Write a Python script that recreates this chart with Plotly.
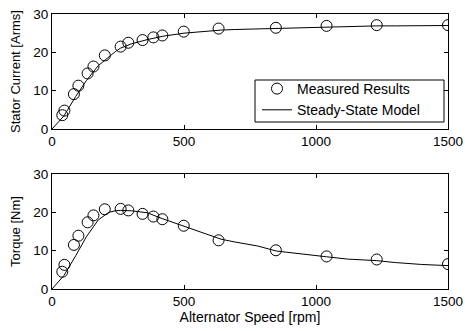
import plotly.graph_objects as go
from plotly.subplots import make_subplots

# Measured data
meas_speed = [39, 47, 83, 100, 135, 157, 200, 260, 289, 343, 384, 418, 499, 631, 848, 1040, 1230, 1500]
meas_current = [3.6, 4.8, 9.1, 11.3, 14.5, 16.3, 19.2, 21.5, 22.5, 23.2, 23.9, 24.4, 25.4, 26.2, 26.4, 26.9, 27.1, 27.1]
meas_torque = [4.5, 6.3, 11.5, 13.9, 17.4, 19.2, 20.8, 20.9, 20.5, 19.6, 18.9, 18.2, 16.5, 12.7, 10.1, 8.5, 7.7, 6.5]

# Steady-state model
model_speed = [0, 45, 90, 130, 175, 215, 240, 260, 300, 360, 420, 500, 560, 640, 690, 780, 850, 940, 1040, 1120, 1230, 1300, 1400, 1500]
model_current = [0, 3.4, 8.5, 12.6, 16.5, 18.9, 20.2, 21.1, 22.2, 23.3, 24.2, 25.0, 25.4, 25.8, 25.95, 26.1, 26.3, 26.5, 26.6, 26.8, 26.9, 26.9, 27.0, 27.0]
model_torque = [0, 3.5, 8.7, 13.6, 18.0, 20.0, 20.4, 20.5, 20.4, 19.9, 18.3, 16.4, 15.1, 13.0, 12.3, 11.2, 9.9, 9.1, 8.4, 7.8, 7.4, 6.9, 6.4, 6.1]

x_ticks = [0, 500, 1000, 1500]
y_ticks = [0, 10, 20, 30]

fig = make_subplots(rows=2, cols=1, vertical_spacing=0.1636)

marker = dict(symbol="circle-open", size=11, color="black", line=dict(width=1, color="black"))
line = dict(color="black", width=1)

fig.add_trace(go.Scatter(x=meas_speed, y=meas_current, mode="markers", marker=marker,
                         name="Measured Results", showlegend=True), row=1, col=1)
fig.add_trace(go.Scatter(x=model_speed, y=model_current, mode="lines", line=line,
                         name="Steady-State Model", showlegend=True), row=1, col=1)
fig.add_trace(go.Scatter(x=meas_speed, y=meas_torque, mode="markers", marker=marker,
                         showlegend=False), row=2, col=1)
fig.add_trace(go.Scatter(x=model_speed, y=model_torque, mode="lines", line=line,
                         showlegend=False), row=2, col=1)

axis_common = dict(showline=True, linecolor="black", linewidth=1, mirror="ticks",
                   ticks="inside", ticklen=4, tickcolor="black", showgrid=False,
                   zeroline=False, automargin=False, tickfont=dict(size=13.5, color="black"))

fig.update_xaxes(range=[0, 1500], tickvals=x_ticks, **axis_common)
fig.update_yaxes(range=[0, 30], tickvals=y_ticks, **axis_common)
fig.update_yaxes(domain=[0.5818, 1.0], row=1, col=1)
fig.update_yaxes(domain=[0.0, 0.4182], row=2, col=1)
fig.update_yaxes(title=dict(text="Stator Current [Arms]", font=dict(size=13, color="black"), standoff=9), row=1, col=1)
fig.update_yaxes(title=dict(text="Torque [Nm]", font=dict(size=13, color="black"), standoff=9), row=2, col=1)
fig.update_xaxes(title=dict(text="Alternator Speed [rpm]", font=dict(size=14, color="black"), standoff=2), row=2, col=1)

# legend frame (box in paper coordinates of the top panel)
fig.add_shape(type="rect", xref="paper", yref="paper",
              x0=(255 - 52) / 396, x1=(444 - 52) / 396,
              y0=(289 - 122) / 275, y1=(289 - 80) / 275,
              line=dict(color="black", width=1), fillcolor="white", layer="above")

fig.update_layout(
    width=465, height=331,
    margin=dict(l=52, r=17, t=14, b=42, autoexpand=False),
    paper_bgcolor="white", plot_bgcolor="white",
    font=dict(family="Liberation Sans, Arial, sans-serif", size=12, color="black"),
    legend=dict(x=(257 - 52) / 396, y=(289 - 73) / 275, xanchor="left", yanchor="top",
                bgcolor="rgba(0,0,0,0)", borderwidth=0,
                font=dict(size=14, color="black"), tracegroupgap=0,
                itemwidth=30),
)

fig.write_html("out.html", config={"displayModeBar": False},
               post_script="document.body.style.margin='0';document.body.style.overflow='hidden';")
